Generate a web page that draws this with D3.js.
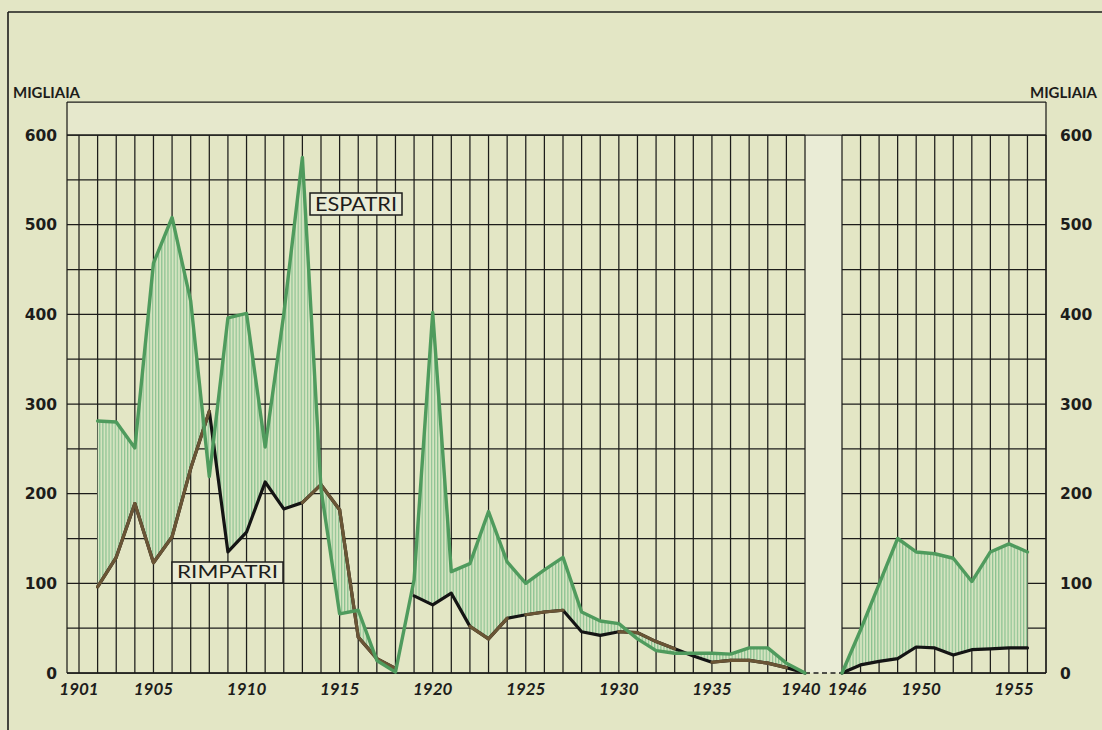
<!DOCTYPE html>
<html>
<head>
<meta charset="utf-8">
<script src="https://cdn.jsdelivr.net/npm/d3@7"></script>
<style>
  html, body { margin: 0; padding: 0; background: #e3e6c5; }
  svg { display: block; }
</style>
</head>
<body>
<svg id="chart" width="1102" height="730"></svg>
<script>
// ---------------- data ----------------
const years1 = [1902,1903,1904,1905,1906,1907,1908,1909,1910,1911,1912,1913,1914,1915,1916,1917,1918,1919,1920,1921,1922,1923,1924,1925,1926,1927,1928,1929,1930,1931,1932,1933,1934,1935,1936,1937,1938,1939,1940];
const espatri1 = [281,280,251,457,508,415,219,396,401,252,400,575,205,66,70,14,1,104,402,113,122,180,124,100,115,129,68,58,55,38,25,22,22,22,21,28,28,11,0];
const rimpatri1 = [96,129,189,123,152,228,292,135,157,213,183,190,210,182,40,16,5,86,76,89,52,38,61,65,68,70,46,42,46,45,35,27,19,12,14,14,11,6,0];
const years2 = [1946,1947,1948,1949,1950,1951,1952,1953,1954,1955,1956];
const espatri2 = [0,48,99,150,135,133,128,102,135,144,135];
const rimpatri2 = [0,9,13,16,29,28,20,26,27,28,28];
const rimpatriBreakAfter = [1918];           // no line between 1918 and 1919
const yTicks = [0,100,200,300,400,500,600];
const xTickLabels1 = [1901,1905,1910,1915,1920,1925,1930,1935,1940];
const xTickLabels2 = [1946,1950,1955];
const unitLabel = "MIGLIAIA";
const labelEsp = "ESPATRI";
const labelRim = "RIMPATRI";
// segments of the rimpatri line printed brownish (start year of segment)
const brownSegs = [1902,1903,1904,1905,1906,1907,1913,1914,1915,1916,1917,1922,1923,1925,1926,1930,1931,1932,1935,1936,1937,1938];

// ---------------- layout ----------------
const svg = d3.select("#chart");
const paper = "#e3e6c5", band = "#e6e8cc", light = "#eaecd6", ink = "#1d1d1b";
const green = "#4f9b5d", brown = "#6a5535";
const top0 = 102, y600 = 135, y0px = 673;
const L = 67, R1 = 805, L2 = 842, R = 1046;

const y = d3.scaleLinear().domain([0, 600]).range([y0px, y600]);
const x1 = d3.scaleLinear().domain([1901, 1940]).range([79, R1]);
const x2 = d3.scaleLinear().domain([1946, 1957]).range([L2, R]);

svg.append("rect").attr("width", 1102).attr("height", 730).attr("fill", paper);

// outer photo frame
svg.append("line").attr("x1", 8).attr("x2", 8).attr("y1", 12).attr("y2", 730).attr("stroke", ink).attr("stroke-width", 1.6);
svg.append("line").attr("x1", 8).attr("x2", 1102).attr("y1", 12).attr("y2", 12).attr("stroke", ink).attr("stroke-width", 1.6);

// bands (top band and gap between panels)
svg.append("rect").attr("x", L).attr("y", top0).attr("width", R - L).attr("height", y600 - top0).attr("fill", band);
svg.append("rect").attr("x", R1).attr("y", y600).attr("width", L2 - R1).attr("height", y0px - y600).attr("fill", light);

// hatch pattern
const defs = svg.append("defs");
const pat = defs.append("pattern").attr("id", "hatch").attr("patternUnits", "userSpaceOnUse")
  .attr("width", 3.1).attr("height", 10);
pat.append("rect").attr("width", 3.1).attr("height", 10).attr("fill", "#d5e4c0");
pat.append("line").attr("x1", 0.6).attr("x2", 0.6).attr("y1", 0).attr("y2", 10)
  .attr("stroke", "#86c08f").attr("stroke-width", 1.1);

// ---------------- grid ----------------
const grid = svg.append("g").attr("stroke", ink).attr("stroke-width", 1.25).attr("fill", "none");
const hVals = d3.range(0, 601, 50);
function panelGrid(xs, yearsV, xl, xr) {
  hVals.forEach(v => {
    grid.append("line").attr("x1", xl).attr("x2", xr).attr("y1", y(v)).attr("y2", y(v));
  });
  yearsV.forEach(yr => {
    grid.append("line").attr("x1", xs(yr)).attr("x2", xs(yr)).attr("y1", y600).attr("y2", y0px);
  });
}
panelGrid(x1, d3.range(1901, 1941), L, R1);
panelGrid(x2, d3.range(1946, 1958), L2, R);
// frame
grid.append("line").attr("x1", L).attr("x2", R).attr("y1", top0).attr("y2", top0);
grid.append("line").attr("x1", L).attr("x2", R).attr("y1", y600).attr("y2", y600);
grid.append("line").attr("x1", L).attr("x2", L).attr("y1", top0).attr("y2", y0px);
grid.append("line").attr("x1", R).attr("x2", R).attr("y1", top0).attr("y2", y0px);
grid.append("line").attr("x1", L).attr("x2", R1).attr("y1", y0px).attr("y2", y0px).attr("stroke-width", 1.6);
grid.append("line").attr("x1", L2).attr("x2", R).attr("y1", y0px).attr("y2", y0px).attr("stroke-width", 1.6);
// dashed zero line across the war gap
grid.append("line").attr("x1", x1(1940)).attr("x2", x2(1946)).attr("y1", y0px).attr("y2", y0px)
  .attr("stroke-dasharray", "5,3.5").attr("stroke-width", 1.5);

// ---------------- series ----------------
function rows(ys, es, rs) { return ys.map((yr, i) => ({ yr, e: es[i], r: rs[i] })); }
const d1 = rows(years1, espatri1, rimpatri1);
const d2 = rows(years2, espatri2, rimpatri2);
function split(data) {
  const segs = [[]];
  data.forEach(d => {
    segs[segs.length - 1].push(d);
    if (rimpatriBreakAfter.includes(d.yr)) segs.push([]);
  });
  return segs.filter(s => s.length > 1);
}

const gArea = svg.append("g");
const gLines = svg.append("g").attr("fill", "none").attr("stroke-linejoin", "round").attr("stroke-linecap", "round");

function drawPanel(data, xs) {
  const area = d3.area().x(d => xs(d.yr)).y0(d => y(d.r)).y1(d => y(d.e));
  split(data).forEach(seg => {
    gArea.append("path").datum(seg).attr("d", area).attr("fill", "url(#hatch)").attr("stroke", "none");
  });
  const lineR = d3.line().x(d => xs(d.yr)).y(d => y(d.r));
  split(data).forEach(seg => {
    gLines.append("path").datum(seg).attr("d", lineR).attr("stroke", "#141414").attr("stroke-width", 3.2);
    for (let i = 0; i < seg.length - 1; i++) {
      if (brownSegs.includes(seg[i].yr)) {
        gLines.append("path").datum([seg[i], seg[i + 1]]).attr("d", lineR)
          .attr("stroke", brown).attr("stroke-width", 3.2);
      }
    }
  });
  const lineE = d3.line().x(d => xs(d.yr)).y(d => y(d.e));
  gLines.append("path").datum(data).attr("d", lineE).attr("stroke", green).attr("stroke-width", 3.4);
}
drawPanel(d1, x1);
drawPanel(d2, x2);

// ---------------- labels ----------------
const numFont = "'DejaVu Sans', sans-serif";
const font = "Lato, 'DejaVu Sans', sans-serif";
const tl = svg.append("g").attr("font-family", numFont).attr("font-weight", 700).attr("fill", ink).attr("font-size", 15.5);
yTicks.forEach(v => {
  tl.append("text").attr("x", 57).attr("y", y(v)).attr("dy", "0.36em").attr("text-anchor", "end").text(v);
  tl.append("text").attr("x", 1060).attr("y", y(v)).attr("dy", "0.36em").attr("text-anchor", "start").text(v);
});
const ul = svg.append("g").attr("font-family", font).attr("font-weight", 700).attr("fill", ink).attr("font-size", 15);
ul.append("text").attr("x", 13).attr("y", 98).text(unitLabel);
ul.append("text").attr("x", 1097).attr("y", 98).attr("text-anchor", "end").text(unitLabel);

const xl = svg.append("g").attr("font-family", font).attr("font-weight", 700).attr("font-style", "italic")
  .attr("fill", ink).attr("font-size", 17).attr("text-anchor", "middle");
xTickLabels1.forEach(yr => xl.append("text").attr("x", x1(yr) - (yr === 1940 ? 4 : 0)).attr("y", 695).text(yr));
xTickLabels2.forEach(yr => xl.append("text").attr("x", x2(yr) + 5).attr("y", 695).text(yr));

// legend boxes
function tag(x, yTop, w, h, txt, fs) {
  svg.append("rect").attr("x", x).attr("y", yTop).attr("width", w).attr("height", h)
    .attr("fill", light).attr("stroke", ink).attr("stroke-width", 1.5);
  svg.append("text").attr("x", x + w / 2).attr("y", yTop + h / 2).attr("dy", "0.36em")
    .attr("text-anchor", "middle").attr("font-family", font).attr("font-weight", 400)
    .attr("font-size", fs).attr("fill", ink).attr("textLength", w - 10).attr("lengthAdjust", "spacingAndGlyphs").text(txt);
}
tag(310, 193, 92, 22, labelEsp, 19.5);
tag(172, 562, 111, 21, labelRim, 16.5);
</script>
</body>
</html>
